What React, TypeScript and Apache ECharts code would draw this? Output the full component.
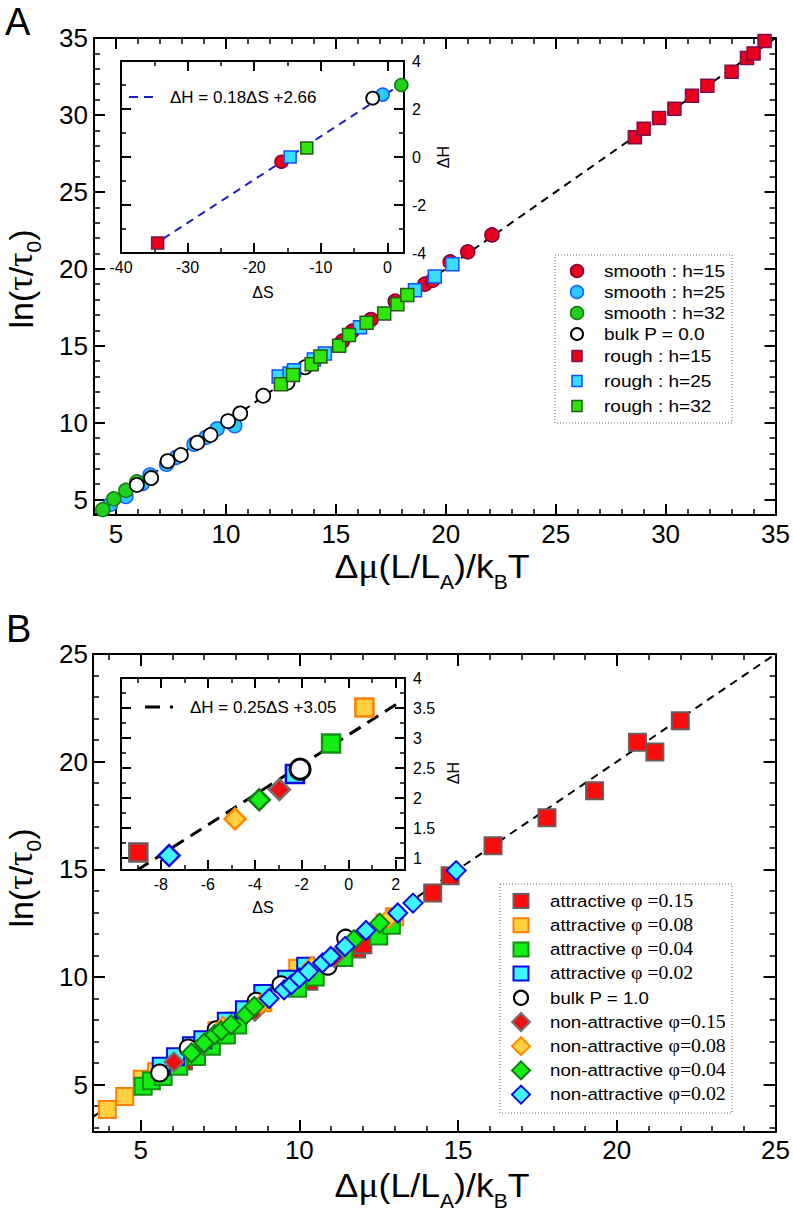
import React, { useEffect, useRef } from "react";
import * as echarts from "echarts";

type Pt = [number, number];

// ---------------- Panel A : main plot ----------------
const smoothH15: Pt[] = [[15.3, 15.3], [15.75, 15.95], [16.6, 16.7], [17.7, 17.9], [19.05, 19.0], [19.4, 19.25], [20.2, 20.45], [21.0, 21.1], [22.1, 22.2]];
const smoothH25: Pt[] = [[4.75, 4.7], [5.45, 5.2], [6.2, 6.05], [6.55, 6.6], [7.3, 7.3], [7.75, 7.75], [8.55, 8.6], [9.1, 9.05], [9.6, 9.6], [10.4, 9.8]];
const smoothH32: Pt[] = [[4.4, 4.35], [4.9, 5.05], [5.45, 5.6], [5.95, 6.15]];
const bulkP00: Pt[] = [[5.95, 5.95], [6.6, 6.4], [7.35, 7.5], [7.95, 7.9], [8.7, 8.7], [9.3, 9.2], [10.1, 10.1], [10.65, 10.6], [11.7, 11.75], [12.8, 12.6], [13.6, 13.6]];
const roughH15: Pt[] = [[28.6, 28.55], [29.0, 29.1], [29.7, 29.8], [30.4, 30.4], [31.2, 31.25], [31.9, 31.9], [33.0, 32.8], [33.7, 33.7], [34.0, 34.0], [34.5, 34.8]];
const roughH25: Pt[] = [[12.4, 13.0], [12.9, 13.2], [13.1, 13.4], [14.0, 14.1], [14.5, 14.5], [16.1, 16.2], [18.6, 18.6], [19.5, 19.5], [20.3, 20.3]];
const roughH32: Pt[] = [[12.5, 12.5], [13.05, 13.1], [13.9, 13.8], [14.3, 14.3], [15.15, 15.0], [15.6, 15.7], [16.4, 16.5], [17.2, 17.1], [17.8, 17.7], [18.25, 18.3]];
const fitLineA: Pt[] = [[4, 4], [35, 35]];

// ---------------- Panel A : inset (ΔS, ΔH) ----------------
const insetA_smooth15: Pt[] = [[-15.9, -0.2]];
const insetA_smooth25: Pt[] = [[-0.7, 2.6]];
const insetA_smooth32: Pt[] = [[2.1, 3.0]];
const insetA_bulk: Pt[] = [[-2.2, 2.45]];
const insetA_rough15: Pt[] = [[-34.5, -3.58]];
const insetA_rough25: Pt[] = [[-14.6, 0.0]];
const insetA_rough32: Pt[] = [[-12.1, 0.37]];
const insetA_fit: Pt[] = [[-33.7, -3.41], [2.5, 3.11]];

// ---------------- Panel B : main plot ----------------
const attr015: Pt[] = [[6.35, 6.1], [10.3, 9.8], [11.8, 11.3], [12.0, 11.5], [14.2, 13.9], [14.75, 14.7], [16.1, 16.1], [17.8, 17.4], [19.3, 18.65], [20.65, 20.9], [21.2, 20.45], [22.0, 21.9]];
const attr008: Pt[] = [[3.95, 3.85], [4.5, 4.45], [5.05, 5.25], [5.5, 5.6], [7.4, 7.5], [8.0, 7.95], [8.85, 8.8], [9.95, 10.4], [12.7, 12.5], [13.0, 12.8]];
const attr004: Pt[] = [[5.08, 4.92], [5.34, 5.18], [5.71, 5.38], [6.2, 5.85], [6.76, 6.31], [7.23, 6.78], [7.7, 7.3], [8.06, 7.77], [9.94, 9.48], [10.5, 10.0], [11.4, 10.9], [12.5, 11.9], [12.9, 12.4]];
const attr002: Pt[] = [[5.65, 5.85], [6.1, 6.3], [6.6, 6.8], [6.96, 7.09], [7.7, 7.94], [8.27, 8.48], [8.85, 9.23], [9.6, 9.9], [10.2, 10.5]];
const bulkP10: Pt[] = [[5.6, 5.54], [6.5, 6.7], [7.38, 7.55], [8.64, 8.87], [9.42, 9.64], [10.9, 10.5], [11.46, 11.8]];
const nonAttr015: Pt[] = [[6.05, 6.05], [7.0, 6.9], [8.6, 8.4], [11.1, 10.9]];
const nonAttr008: Pt[] = [[7.6, 7.7], [8.8, 8.75], [10.4, 10.5], [12.8, 12.7]];
const nonAttr004: Pt[] = [[6.6, 6.47], [7.0, 6.93], [7.33, 7.32], [7.54, 7.5], [7.85, 7.78], [8.32, 8.25], [8.58, 8.63], [11.72, 11.73], [12.53, 12.5]];
const nonAttr002: Pt[] = [[9.05, 9.0], [9.52, 9.4], [9.75, 9.64], [10.0, 9.95], [10.29, 10.26], [10.73, 10.65], [10.99, 10.95], [11.44, 11.42], [12.1, 12.16], [13.1, 12.97], [13.58, 13.43], [14.94, 14.94]];
const fitLineB: Pt[] = [[3.5, 3.5], [25, 25]];

// ---------------- Panel B : inset ----------------
const insetB_attr015: Pt[] = [[-8.96, 1.09]];
const insetB_attr008: Pt[] = [[0.67, 3.51]];
const insetB_attr004: Pt[] = [[-0.75, 2.91]];
const insetB_attr002: Pt[] = [[-2.29, 2.4]];
const insetB_bulk: Pt[] = [[-2.07, 2.48]];
const insetB_non015: Pt[] = [[-2.95, 2.14]];
const insetB_non008: Pt[] = [[-4.84, 1.65]];
const insetB_non004: Pt[] = [[-3.81, 1.97]];
const insetB_non002: Pt[] = [[-7.65, 1.04]];
const insetB_fit: Pt[] = [[-9.0, 0.8], [2.1, 3.58]];

// ---------------- tick labels ----------------
const A_TICKS = [5, 10, 15, 20, 25, 30, 35];
const A_INSET_X_TICKS = [-40, -30, -20, -10, 0];
const A_INSET_Y_TICKS = [-4, -2, 0, 2, 4];
const B_TICKS = [5, 10, 15, 20, 25];
const B_INSET_X_TICKS = [-8, -6, -4, -2, 0, 2];
const B_INSET_Y_TICKS = [1, 1.5, 2, 2.5, 3, 3.5, 4];

// ---------------- legend labels ----------------
const LEGEND_A = ["smooth : h=15", "smooth : h=25", "smooth : h=32", "bulk P = 0.0", "rough : h=15", "rough : h=25", "rough : h=32"];
const LEGEND_B_PREFIX = ["attractive ", "attractive ", "attractive ", "attractive ", "bulk P = 1.0", "non-attractive ", "non-attractive ", "non-attractive ", "non-attractive "];
const LEGEND_B_PHI = ["φ =0.15", "φ =0.08", "φ =0.04", "φ =0.02", "", "φ=0.15", "φ=0.08", "φ=0.04", "φ=0.02"];

const SANS = '"Liberation Sans", Arial, sans-serif';
const SERIF = '"Liberation Serif", "Times New Roman", serif';

const STY = {
  s15: { fill: "#e8001c", stroke: "#800040" },
  s25: { fill: "#29c8ff", stroke: "#1a5cff" },
  s32: { fill: "#1fd01f", stroke: "#137813" },
  bulk: { fill: "#ffffff", stroke: "#000000" },
  r15: { fill: "#e8001c", stroke: "#7a1050" },
  r25: { fill: "#38dcff", stroke: "#1050ff" },
  r32: { fill: "#2ee60a", stroke: "#255a12" },
  a15: { fill: "#ff0a0a", stroke: "#6e5a5a" },
  a08: { fill: "#ffd040", stroke: "#ff8000" },
  a04: { fill: "#14ee14", stroke: "#149014" },
  a02: { fill: "#3cf5ff", stroke: "#0a0ae0" },
  n15: { fill: "#ee1010", stroke: "#787070" },
  n08: { fill: "#ffd040", stroke: "#ff8a00" },
  n04: { fill: "#14ee14", stroke: "#107a10" },
  n02: { fill: "#3cf5ff", stroke: "#0a0ae0" },
};

function minorTicks(min: number, max: number, step: number, majors: number[]) {
  const out: number[] = [];
  const start = Math.ceil(min / step - 1e-9) * step;
  for (let v = start; v <= max + 1e-9; v += step) {
    const r = Math.round(v * 1000) / 1000;
    if (r <= min + 1e-6 || r >= max - 1e-6) continue;
    if (majors.some((m) => Math.abs(m - r) < 1e-6)) continue;
    out.push(r);
  }
  return out;
}

type GridSpec = {
  left: number; top: number; width: number; height: number;
  x: [number, number]; y: [number, number];
  xMaj: number[]; xMin: number[]; yMaj: number[]; yMin: number[];
  fs: number; xMargin: number; yMargin: number; maj: number; mn: number;
  yLabelSide: "left" | "right";
  bg: boolean;
};

const GRIDS: GridSpec[] = [
  { left: 94, top: 38, width: 682, height: 477, x: [4, 35], y: [4, 35], xMaj: A_TICKS, xMin: minorTicks(4, 35, 1, A_TICKS), yMaj: A_TICKS, yMin: minorTicks(4, 35, 1, A_TICKS), fs: 26, xMargin: 6, yMargin: 6, maj: 11, mn: 6, yLabelSide: "left", bg: false },
  { left: 121, top: 61, width: 283, height: 192, x: [-40, 2.5], y: [-4, 4], xMaj: A_INSET_X_TICKS, xMin: minorTicks(-40, 2.5, 5, A_INSET_X_TICKS), yMaj: A_INSET_Y_TICKS, yMin: minorTicks(-4, 4, 1, A_INSET_Y_TICKS), fs: 16, xMargin: 6, yMargin: 8, maj: 10, mn: 5, yLabelSide: "right", bg: true },
  { left: 93, top: 654, width: 684, height: 478, x: [3.5, 25], y: [2.8, 25], xMaj: B_TICKS, xMin: minorTicks(3.5, 25, 1, B_TICKS), yMaj: B_TICKS, yMin: minorTicks(2.8, 25, 1, B_TICKS), fs: 26, xMargin: 5, yMargin: 5, maj: 12, mn: 6, yLabelSide: "left", bg: false },
  { left: 121, top: 678, width: 284, height: 192, x: [-9.7, 2.4], y: [0.8, 4], xMaj: B_INSET_X_TICKS, xMin: minorTicks(-9.7, 2.4, 1, B_INSET_X_TICKS), yMaj: B_INSET_Y_TICKS, yMin: minorTicks(0.8, 4, 0.25, B_INSET_Y_TICKS), fs: 16, xMargin: 6, yMargin: 8, maj: 10, mn: 5, yLabelSide: "right", bg: true },
];

function buildAxes() {
  const xAxis: any[] = [];
  const yAxis: any[] = [];
  const X: number[] = [];
  const Y: number[] = [];
  const mk = (list: any[], grid: number, pos: string, range: [number, number], majors: number[], minors: number[], showLab: boolean, g: GridSpec, margin: number) => {
    const base = { type: "value", gridIndex: grid, position: pos, min: range[0], max: range[1], splitLine: { show: false }, splitArea: { show: false }, axisPointer: { show: false }, silent: true };
    const idx = list.length;
    list.push({
      ...base,
      axisLine: { show: true, onZero: false, lineStyle: { color: "#000", width: 2 } },
      axisTick: { show: true, inside: true, length: g.maj, customValues: majors, lineStyle: { color: "#000", width: 2 } },
      axisLabel: showLab ? { show: true, customValues: majors, fontSize: g.fs, fontFamily: SANS, color: "#000", margin } : { show: false },
    });
    list.push({
      ...base,
      axisLine: { show: false, onZero: false },
      axisTick: { show: true, inside: true, length: g.mn, customValues: minors, lineStyle: { color: "#000", width: 1.5 } },
      axisLabel: { show: false },
    });
    return idx;
  };
  GRIDS.forEach((g, i) => {
    X.push(mk(xAxis, i, "bottom", g.x, g.xMaj, g.xMin, true, g, g.xMargin));
    mk(xAxis, i, "top", g.x, g.xMaj, g.xMin, false, g, g.xMargin);
    const l = mk(yAxis, i, "left", g.y, g.yMaj, g.yMin, g.yLabelSide === "left", g, g.yMargin);
    mk(yAxis, i, "right", g.y, g.yMaj, g.yMin, g.yLabelSide === "right", g, g.yMargin);
    Y.push(l);
  });
  return { xAxis, yAxis, X, Y };
}

type Sty = { fill: string; stroke: string };

export default function App() {
  const ref = useRef<HTMLDivElement>(null);
  useEffect(() => {
    if (!ref.current) return;
    const chart = echarts.init(ref.current, null, { renderer: "svg", width: 793, height: 1219 });
    const ctx = document.createElement("canvas").getContext("2d")!;
    const { xAxis, yAxis, X, Y } = buildAxes();

    const sc = (name: string, data: Pt[], gi: number, symbol: string, size: number, s: Sty, bw: number) => ({
      type: "scatter", name, data, xAxisIndex: X[gi], yAxisIndex: Y[gi], symbol, symbolSize: size,
      itemStyle: { color: s.fill, borderColor: s.stroke, borderWidth: bw, opacity: 1 },
      z: 3, silent: true, emphasis: { disabled: true },
    });
    const ln = (name: string, data: Pt[], gi: number, color: string, width: number, dash: number[]) => ({
      type: "line", name, data, xAxisIndex: X[gi], yAxisIndex: Y[gi], symbol: "none", showSymbol: false,
      lineStyle: { color, width, type: dash }, z: 2, silent: true,
    });

    const series: any[] = [
      ln("fitA", fitLineA, 0, "#000", 2, [8, 6]),
      sc(LEGEND_A[0], smoothH15, 0, "circle", 14, STY.s15, 1.5),
      sc(LEGEND_A[1], smoothH25, 0, "circle", 14, STY.s25, 1.5),
      sc(LEGEND_A[2], smoothH32, 0, "circle", 14, STY.s32, 1.5),
      sc(LEGEND_A[3], bulkP00, 0, "circle", 14, STY.bulk, 1.8),
      sc(LEGEND_A[4], roughH15, 0, "rect", 13, STY.r15, 1.5),
      sc(LEGEND_A[5], roughH25, 0, "rect", 13, STY.r25, 1.5),
      sc(LEGEND_A[6], roughH32, 0, "rect", 13, STY.r32, 1.5),

      ln("fitA inset", insetA_fit, 1, "#1a1ac8", 2, [8, 6]),
      sc(LEGEND_A[0], insetA_smooth15, 1, "circle", 13, STY.s15, 1.5),
      sc(LEGEND_A[1], insetA_smooth25, 1, "circle", 13, STY.s25, 1.5),
      sc(LEGEND_A[2], insetA_smooth32, 1, "circle", 13, STY.s32, 1.5),
      sc(LEGEND_A[3], insetA_bulk, 1, "circle", 13, STY.bulk, 1.8),
      sc(LEGEND_A[4], insetA_rough15, 1, "rect", 12, STY.r15, 1.5),
      sc(LEGEND_A[5], insetA_rough25, 1, "rect", 12, STY.r25, 1.5),
      sc(LEGEND_A[6], insetA_rough32, 1, "rect", 12, STY.r32, 1.5),

      ln("fitB", fitLineB, 2, "#000", 2, [8, 6]),
      sc("attractive φ=0.15", attr015, 2, "rect", 17, STY.a15, 2),
      sc("attractive φ=0.08", attr008, 2, "rect", 17, STY.a08, 2),
      sc("attractive φ=0.04", attr004, 2, "rect", 17, STY.a04, 2),
      sc("attractive φ=0.02", attr002, 2, "rect", 17, STY.a02, 2),
      sc("bulk P = 1.0", bulkP10, 2, "circle", 17, STY.bulk, 2),
      sc("non-attractive φ=0.15", nonAttr015, 2, "diamond", 19, STY.n15, 2),
      sc("non-attractive φ=0.08", nonAttr008, 2, "diamond", 19, STY.n08, 2),
      sc("non-attractive φ=0.04", nonAttr004, 2, "diamond", 19, STY.n04, 2),
      sc("non-attractive φ=0.02", nonAttr002, 2, "diamond", 19, STY.n02, 2),

      ln("fitB inset", insetB_fit, 3, "#000", 3, [13, 8]),
      sc("attractive φ=0.15", insetB_attr015, 3, "rect", 18, STY.a15, 2.5),
      sc("attractive φ=0.08", insetB_attr008, 3, "rect", 18, STY.a08, 2.5),
      sc("attractive φ=0.04", insetB_attr004, 3, "rect", 18, STY.a04, 2.5),
      sc("attractive φ=0.02", insetB_attr002, 3, "rect", 18, STY.a02, 2.5),
      sc("bulk P = 1.0", insetB_bulk, 3, "circle", 20, STY.bulk, 3),
      sc("non-attractive φ=0.15", insetB_non015, 3, "diamond", 21, STY.n15, 2.5),
      sc("non-attractive φ=0.08", insetB_non008, 3, "diamond", 21, STY.n08, 2.5),
      sc("non-attractive φ=0.04", insetB_non004, 3, "diamond", 21, STY.n04, 2.5),
      sc("non-attractive φ=0.02", insetB_non002, 3, "diamond", 21, STY.n02, 2.5),
    ];

    type Piece = { t: string; s: number; f?: string; dy?: number };
    const compose = (pieces: Piece[], x: number, y: number, align: "left" | "center", rotation = 0, scaleX = 1) => {
      let cx = 0;
      const kids: any[] = [];
      pieces.forEach((p) => {
        const fam = p.f || SANS;
        ctx.font = `${p.s}px ${fam}`;
        const w = ctx.measureText(p.t).width;
        kids.push({ type: "text", x: cx, y: (p.dy || 0) - 0.35 * p.s, silent: true, z: 30,
          style: { text: p.t, fontSize: p.s, fontFamily: fam, fill: "#000", align: "left", verticalAlign: "middle" } });
        cx += w;
      });
      if (align === "center") kids.forEach((k) => (k.x -= cx / 2));
      return { type: "group", x, y, rotation, scaleX, children: kids, z: 30 };
    };

    const marker = (kind: string, cx: number, cy: number, s: Sty, size: number, lw: number, h?: number) => {
      const style = { fill: s.fill, stroke: s.stroke, lineWidth: lw };
      if (kind === "circle") return { type: "circle", shape: { cx, cy, r: size / 2 }, style, z: 30, silent: true };
      if (kind === "rect") { const hh = h ?? size; return { type: "rect", shape: { x: cx - size / 2, y: cy - hh / 2, width: size, height: hh }, style, z: 30, silent: true }; }
      const r = size / 2;
      return { type: "polygon", shape: { points: [[cx, cy - r], [cx + r, cy], [cx, cy + r], [cx - r, cy]] }, style, z: 30, silent: true };
    };

    const graphic: any[] = [];
    // panel letters
    graphic.push(compose([{ t: "A", s: 38 }], 5, 35, "left"));
    graphic.push(compose([{ t: "B", s: 38 }], 6, 642, "left"));
    // main axis titles
    const xTitle = (baseline: number) => compose([
      { t: "Δ", s: 34 }, { t: "μ", s: 36, f: SERIF }, { t: "(L/L", s: 34 }, { t: "A", s: 20, dy: 11 },
      { t: ")/k", s: 34 }, { t: "B", s: 20, dy: 11 }, { t: "T", s: 34 },
    ], 432, baseline, "center", 0, 1.05);
    const yTitle = (cy: number) => compose([
      { t: "ln(", s: 34 }, { t: "τ", s: 36, f: SERIF }, { t: "/", s: 34 }, { t: "τ", s: 36, f: SERIF },
      { t: "0", s: 21, dy: 8 }, { t: ")", s: 34 },
    ], 33, cy, "center", Math.PI / 2, 1.0);
    graphic.push(xTitle(578), xTitle(1197), yTitle(279), yTitle(878));

    // inset axis names
    const small = (t: string, x: number, y: number, rot = 0) => ({ type: "text", x, y, rotation: rot, silent: true, z: 30,
      style: { text: t, fontSize: 16, fontFamily: SANS, fill: "#000", align: "center", verticalAlign: "middle" } });
    graphic.push(small("ΔS", 263, 292), small("ΔH", 443, 157, Math.PI / 2));
    graphic.push(small("ΔS", 263, 907), small("ΔH", 453, 773, Math.PI / 2));

    // inset fit legends
    graphic.push({ type: "line", shape: { x1: 129, y1: 97, x2: 158, y2: 97 }, style: { stroke: "#1a1ac8", lineWidth: 2, lineDash: [9, 6] }, z: 30, silent: true });
    graphic.push({ type: "text", x: 170, y: 97, silent: true, z: 30, style: { text: "ΔH = 0.18ΔS +2.66", fontSize: 17, fontFamily: SANS, fill: "#000", align: "left", verticalAlign: "middle" } });
    graphic.push({ type: "line", shape: { x1: 145, y1: 707, x2: 174, y2: 707 }, style: { stroke: "#000", lineWidth: 3, lineDash: [15, 10, 3, 100] }, z: 30, silent: true });
    graphic.push({ type: "text", x: 190, y: 707, silent: true, z: 30, style: { text: "ΔH = 0.25ΔS +3.05", fontSize: 17, fontFamily: SANS, fill: "#000", align: "left", verticalAlign: "middle" } });

    // legend A
    graphic.push({ type: "rect", shape: { x: 555, y: 255, width: 177, height: 168 }, style: { fill: "#fff", stroke: "#666", lineWidth: 1, lineDash: [1, 2] }, z: 19, silent: true });
    const rowsA = [271, 292, 313, 334, 356, 381, 406];
    const legAStyle: [string, Sty][] = [["circle", STY.s15], ["circle", STY.s25], ["circle", STY.s32], ["circle", STY.bulk], ["rect", STY.r15], ["rect", STY.r25], ["rect", STY.r32]];
    legAStyle.forEach(([kind, s], i) => {
      const y = rowsA[i];
      graphic.push(kind === "circle" ? marker("circle", 577, y, s, i === 3 ? 12 : 13, i === 3 ? 2 : 1.5) : marker("rect", 577, y, s, 10, 1.5, 11));
      graphic.push(compose([{ t: LEGEND_A[i], s: 17 }], 604, y + 6, "left", 0, 1.12));
    });

    // legend B
    graphic.push({ type: "rect", shape: { x: 500, y: 884, width: 232, height: 229 }, style: { fill: "#fff", stroke: "#666", lineWidth: 1, lineDash: [1, 2] }, z: 19, silent: true });
    const legBStyle: [string, Sty][] = [["rect", STY.a15], ["rect", STY.a08], ["rect", STY.a04], ["rect", STY.a02], ["circle", STY.bulk], ["diamond", STY.n15], ["diamond", STY.n08], ["diamond", STY.n04], ["diamond", STY.n02]];
    legBStyle.forEach(([kind, s], i) => {
      const y = 901 + i * 24.2;
      if (kind === "rect") graphic.push(marker("rect", 521, y, s, 15, 2, 14));
      else if (kind === "circle") graphic.push(marker("circle", 521, y, s, 14, 2.2));
      else graphic.push(marker("diamond", 521, y, s, 18, 2));
      const pieces: Piece[] = [{ t: LEGEND_B_PREFIX[i], s: 17 }];
      if (LEGEND_B_PHI[i]) pieces.push({ t: LEGEND_B_PHI[i], s: 18, f: SERIF });
      graphic.push(compose(pieces, 550, y + 6, "left", 0, 1.1));
    });

    chart.setOption({
      animation: false,
      backgroundColor: "#fff",
      grid: GRIDS.map((g) => ({ left: g.left, top: g.top, width: g.width, height: g.height, show: g.bg, backgroundColor: "#fff", borderWidth: 0, containLabel: false })),
      xAxis,
      yAxis,
      series,
      graphic,
    });
    return () => chart.dispose();
  }, []);
  return <div ref={ref} style={{ position: "absolute", left: 0, top: 0, width: 793, height: 1219, background: "#fff" }} />;
}
